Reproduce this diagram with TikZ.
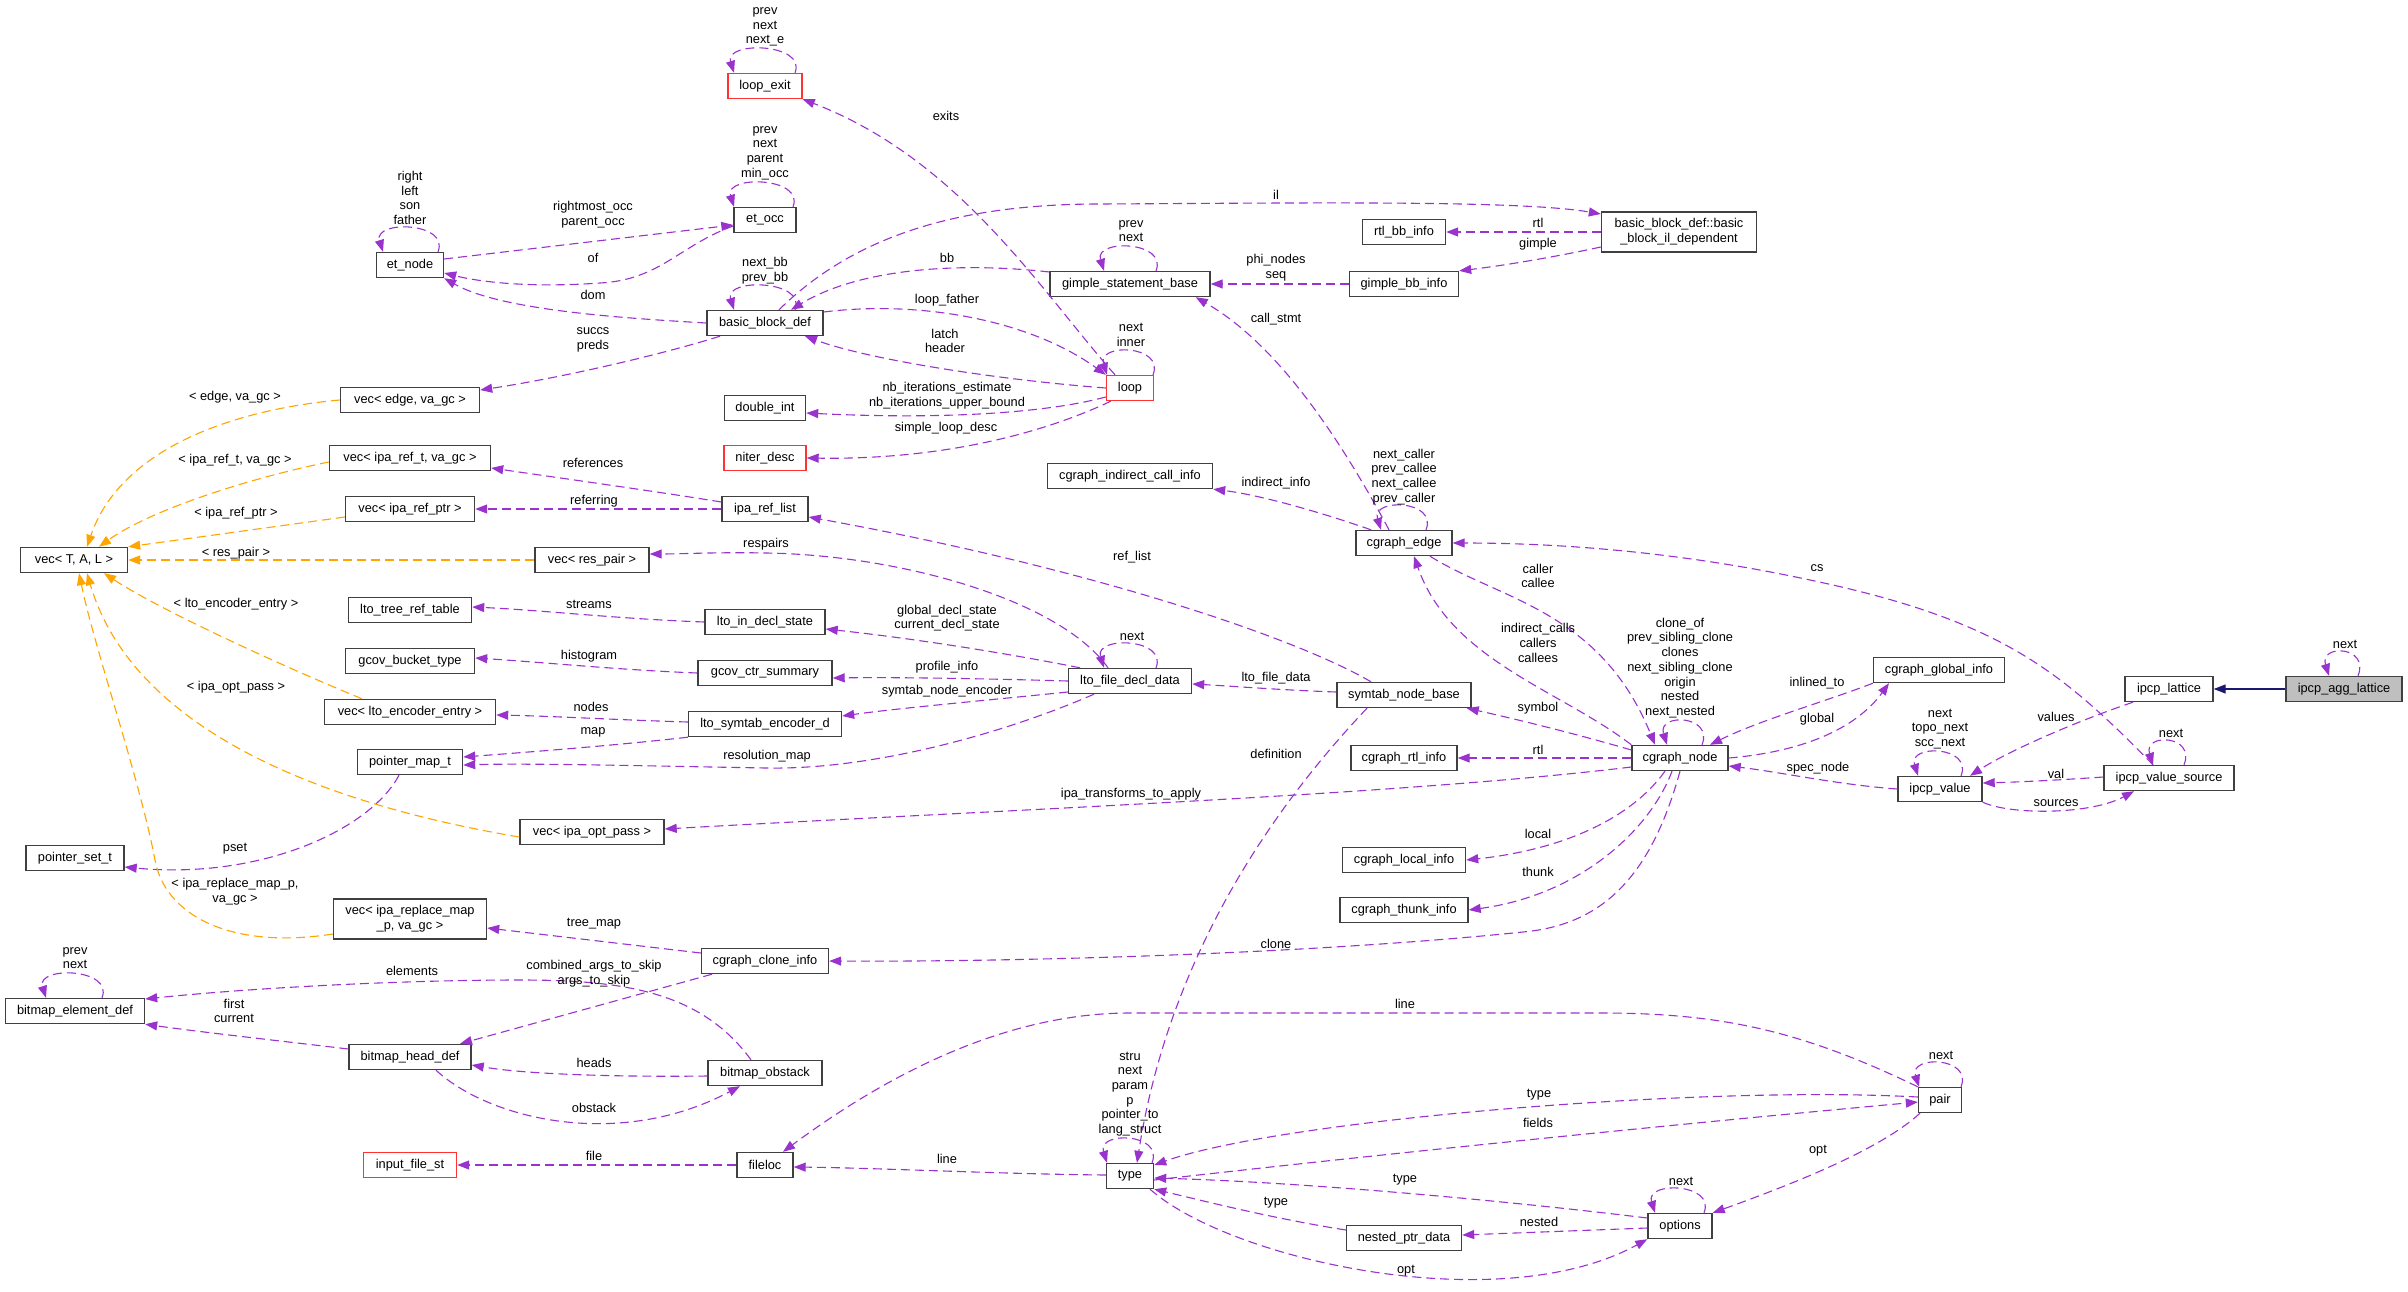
\documentclass[tikz,border=0pt]{standalone}
\usepackage{fontspec}
\setmainfont{Liberation Sans}
\usetikzlibrary{arrows.meta}
\definecolor{depcol}{HTML}{9A32CD}
\definecolor{tmplcol}{HTML}{FFA500}
\definecolor{inhcol}{HTML}{191970}
\definecolor{boxcol}{HTML}{404040}
\definecolor{redcol}{HTML}{FF3333}
\definecolor{graycol}{HTML}{BFBFBF}
\newcommand\dgfont{\fontsize{12.8}{14.7}\selectfont}
\newcommand\myloop[3]{\draw[dep] ([xshift=#2]#1.north) .. controls ([xshift={#2+12},yshift=30]#1.north) and ([xshift={-#3-10},yshift=32]#1.north) .. ([xshift=-#3]#1.north);}
\begin{document}
\begin{tikzpicture}[x=1pt,y=-1pt,
  box/.style={draw=boxcol,line width=1.4pt,fill=white,minimum height=25pt,inner sep=0pt,font=\dgfont,text=black},
  rbox/.style={box,draw=redcol},
  gbox/.style={box,fill=graycol},
  lab/.style={font=\dgfont,inner sep=0pt,align=center,text=black},
  dep/.style={draw=depcol,line width=1.1pt,dash pattern=on 9pt off 5pt,-{Triangle[length=12pt,width=9pt]}},
  tmpl/.style={draw=tmplcol,line width=1.1pt,dash pattern=on 9pt off 5pt,-{Triangle[length=12pt,width=9pt]}},
  inh/.style={draw=inhcol,line width=1.3pt,-{Triangle[length=12pt,width=9pt]}}]
\fill[white] (0,0) rectangle (2408,1292);
\useasboundingbox (0,0) rectangle (2408,1292);

% ---------- boxes ----------
\node[box,minimum width=67] (etnode) at (410,265) {et\_node};
\node[box,minimum width=62] (etocc) at (765,220) {et\_occ};
\node[rbox,minimum width=74] (loopexit) at (765,86) {loop\_exit};
\node[box,minimum width=116] (bbdef) at (765,323) {basic\_block\_def};
\node[box,minimum width=160] (gsb) at (1130,284) {gimple\_statement\_base};
\node[rbox,minimum width=47] (loop) at (1130,388) {loop};
\node[box,minimum width=81] (doubleint) at (765,408) {double\_int};
\node[box,minimum width=83] (rtlbb) at (1404,232) {rtl\_bb\_info};
\node[box,minimum width=155,minimum height=40,align=center] (bbil) at (1679,232) {basic\_block\_def::basic\\\_block\_il\_dependent};
\node[box,minimum width=109] (gimplebb) at (1404,284) {gimple\_bb\_info};
\node[box,minimum width=139] (vecedge) at (410,400) {vec< edge, va\_gc >};
\node[box,minimum width=107] (vectal) at (74,560) {vec< T, A, L >};
\node[box,minimum width=161] (vecreft) at (410,458) {vec< ipa\_ref\_t, va\_gc >};
\node[box,minimum width=129] (vecrefptr) at (410,509) {vec< ipa\_ref\_ptr >};
\node[box,minimum width=114] (vecrespair) at (592,560) {vec< res\_pair >};
\node[box,minimum width=123] (ltotree) at (410,610) {lto\_tree\_ref\_table};
\node[box,minimum width=129] (gcovbucket) at (410,661) {gcov\_bucket\_type};
\node[box,minimum width=171] (vecltoenc) at (410,712) {vec< lto\_encoder\_entry >};
\node[box,minimum width=105] (pointermap) at (410,762) {pointer\_map\_t};
\node[box,minimum width=144] (vecipaopt) at (592,832) {vec< ipa\_opt\_pass >};
\node[box,minimum width=98] (pointerset) at (75,858) {pointer\_set\_t};
\node[rbox,minimum width=82] (niterdesc) at (765,458) {niter\_desc};
\node[box,minimum width=165] (indirectcall) at (1130,476) {cgraph\_indirect\_call\_info};
\node[box,minimum width=86] (iparef) at (765,509) {ipa\_ref\_list};
\node[box,minimum width=120] (ltoindecl) at (765,622) {lto\_in\_decl\_state};
\node[box,minimum width=134] (gcovctr) at (765,673) {gcov\_ctr\_summary};
\node[box,minimum width=153] (ltosymtab) at (765,724) {lto\_symtab\_encoder\_d};
\node[box,minimum width=123] (ltofile) at (1130,681) {lto\_file\_decl\_data};
\node[box,minimum width=96] (cgedge) at (1404,543) {cgraph\_edge};
\node[box,minimum width=134] (symtab) at (1404,695) {symtab\_node\_base};
\node[box,minimum width=106] (cgrtl) at (1404,758) {cgraph\_rtl\_info};
\node[box,minimum width=96] (cgnode) at (1680,758) {cgraph\_node};
\node[box,minimum width=123] (cglocal) at (1404,860) {cgraph\_local\_info};
\node[box,minimum width=128] (cgthunk) at (1404,910) {cgraph\_thunk\_info};
\node[box,minimum width=131] (cgglobal) at (1939,670) {cgraph\_global\_info};
\node[box,minimum width=88] (ipcplattice) at (2169,689) {ipcp\_lattice};
\node[gbox,minimum width=116] (ipcpagg) at (2344,689) {ipcp\_agg\_lattice};
\node[box,minimum width=84] (ipcpvalue) at (1940,789) {ipcp\_value};
\node[box,minimum width=130] (ipcpvs) at (2169,778) {ipcp\_value\_source};
\node[box,minimum width=153,minimum height=40,align=center] (vecreplace) at (410,919) {vec< ipa\_replace\_map\\\_p, va\_gc >};
\node[box,minimum width=127] (cgclone) at (765,961) {cgraph\_clone\_info};
\node[box,minimum width=139] (bmelem) at (75,1011) {bitmap\_element\_def};
\node[box,minimum width=122] (bmhead) at (410,1057) {bitmap\_head\_def};
\node[box,minimum width=114] (bmobstack) at (765,1073) {bitmap\_obstack};
\node[rbox,minimum width=93] (inputfile) at (410,1165) {input\_file\_st};
\node[box,minimum width=56] (fileloc) at (765,1165) {fileloc};
\node[box,minimum width=47] (type) at (1130,1176) {type};
\node[box,minimum width=43] (pair) at (1940,1100) {pair};
\node[box,minimum width=64] (options) at (1680,1226) {options};
\node[box,minimum width=115] (nestedptr) at (1404,1238) {nested\_ptr\_data};

% ---------- self loops ----------
\myloop{etnode}{28}{27}
\myloop{etocc}{28}{31}
\myloop{loopexit}{30}{31}
\myloop{bbdef}{30}{31}
\myloop{gsb}{26}{26}
\myloop{loop}{23}{23}
\myloop{cgedge}{22}{23}
\myloop{cgnode}{22}{13}
\myloop{ltofile}{26}{26}
\myloop{ipcpagg}{14}{15}
\myloop{ipcpvalue}{21}{22}
\myloop{ipcpvs}{15}{16}
\myloop{bmelem}{27}{29}
\myloop{type}{22}{23}
\myloop{pair}{21}{21}
\myloop{options}{24}{25}

% ---------- connectors ----------
\draw[dep] ([yshift=6]etnode.east) -- ([yshift=-5]etocc.west);
\draw[dep] ([yshift=-6]etocc.west) .. controls (680,245) and (660,280) .. (600,283) .. controls (530,288) and (480,282) .. ([yshift=-8]etnode.east);
\draw[dep] (bbdef.west) .. controls (620,318) and (500,310) .. (etnode.south east);
\draw[dep] ([xshift=-45]bbdef.south) .. controls (660,355) and (560,378) .. ([yshift=10]vecedge.east);
\draw[dep] ([xshift=14]bbdef.north) .. controls (850,240) and (950,204) .. (1100,204) .. controls (1300,203) and (1520,200) .. ([yshift=18]bbil.west);
\draw[dep] ([yshift=12]gsb.west) .. controls (960,262) and (860,268) .. ([xshift=26]bbdef.north);
\draw[dep] (loop.west) .. controls (1000,380) and (870,360) .. ([xshift=40]bbdef.south);
\draw[dep] ([yshift=11]bbdef.east) .. controls (920,300) and (1030,320) .. (loop.north west);
\draw[dep] ([xshift=-15]loop.north) .. controls (1040,290) and (960,160) .. (loopexit.south east);
\draw[dep] ([yshift=-9]loop.west) .. controls (1050,412) and (950,420) .. ([yshift=-5]doubleint.east);
\draw[dep] ([xshift=5]loop.south west) .. controls (1050,430) and (950,460) .. (niterdesc.east);
\draw[dep] (bbil.west) -- (rtlbb.east);
\draw[dep] ([yshift=-15]bbil.west) .. controls (1550,258) and (1500,266) .. (gimplebb.north east);
\draw[dep] (gimplebb.west) -- (gsb.east);
\draw[dep] ([xshift=-15]cgedge.north) .. controls (1330,420) and (1270,340) .. ([xshift=-15]gsb.south east);
\draw[dep] ([xshift=-33]cgedge.north) .. controls (1320,512) and (1260,495) .. (indirectcall.south east);
\draw[dep] ([xshift=26]cgedge.south) .. controls (1500,600) and (1600,610) .. ([xshift=-25]cgnode.north);
\draw[dep] (cgnode.north west) .. controls (1560,690) and (1450,660) .. ([xshift=10]cgedge.south);
\draw[dep] ([xshift=-16]ipcpvs.north) .. controls (2060,670) and (2000,620) .. (1810,580) .. controls (1680,552) and (1560,543) .. (cgedge.east);
\draw[dep] (cgglobal.south west) .. controls (1830,700) and (1760,720) .. ([xshift=30]cgnode.north);
\draw[dep] (cgnode.east) .. controls (1800,752) and (1855,730) .. ([xshift=-50]cgglobal.south);
\draw[dep] (ipcpvalue.west) .. controls (1840,785) and (1780,772) .. ([yshift=-8]cgnode.east);
\draw[dep] ([yshift=8]cgnode.west) .. controls (1580,735) and (1520,720) .. ([xshift=-5]symtab.south east);
\draw[dep] (cgnode.west) -- (cgrtl.east);
\draw[dep] ([yshift=-9]cgnode.west) .. controls (1400,795) and (1000,810) .. ([yshift=3]vecipaopt.east);
\draw[dep] ([xshift=-15]cgnode.south) .. controls (1630,820) and (1560,850) .. (cglocal.east);
\draw[dep] ([xshift=-8]cgnode.south) .. controls (1650,830) and (1580,895) .. (cgthunk.east);
\draw[dep] (cgnode.south) .. controls (1650,880) and (1600,925) .. (1523,932) .. controls (1300,955) and (1000,962) .. (cgclone.east);
\draw[dep] ([xshift=-36]ipcplattice.south) .. controls (2080,720) and (2010,750) .. ([xshift=30]ipcpvalue.north);
\draw[dep] ([yshift=1]ipcpvs.west) .. controls (2060,780) and (2020,782) .. ([yshift=6]ipcpvalue.east);
\draw[dep] (ipcpvalue.south east) .. controls (2010,815) and (2090,815) .. ([xshift=-35]ipcpvs.south);
\draw[inh] (ipcpagg.west) -- (ipcplattice.east);
\draw[dep] ([yshift=3]symtab.west) .. controls (1280,690) and (1230,686) .. ([yshift=-3]ltofile.east);
\draw[dep] ([xshift=-33]symtab.north) .. controls (1300,640) and (1100,570) .. ([yshift=-8]iparef.east);
\draw[dep] ([xshift=-37]symtab.south) .. controls (1280,800) and (1170,950) .. ([xshift=7]type.north);
\draw[dep] ([xshift=-22]ltofile.north) .. controls (1060,600) and (900,555) .. (766,553) .. controls (720,552) and (680,554) .. ([yshift=6]vecrespair.east);
\draw[dep] ([xshift=-50]ltofile.north) .. controls (990,650) and (900,637) .. ([yshift=-7]ltoindecl.east);
\draw[dep] (ltofile.west) .. controls (1000,679) and (900,677) .. ([yshift=-5]gcovctr.east);
\draw[dep] ([yshift=-11]ltofile.west) .. controls (990,700) and (900,708) .. ([yshift=8]ltosymtab.east);
\draw[dep] ([xshift=-36]ltofile.south) .. controls (1000,735) and (870,770) .. (766,768) .. controls (650,766) and (530,763) .. ([yshift=-3]pointermap.east);
\draw[dep] (ltoindecl.west) .. controls (620,619) and (540,610) .. ([yshift=3]ltotree.east);
\draw[dep] (gcovctr.west) .. controls (620,670) and (540,662) .. ([yshift=3]gcovbucket.east);
\draw[dep] ([yshift=2]ltosymtab.west) .. controls (620,720) and (550,716) .. ([yshift=-3]vecltoenc.east);
\draw[dep] (ltosymtab.south west) .. controls (620,745) and (530,752) .. ([yshift=5]pointermap.east);
\draw[dep] ([xshift=-11]pointermap.south) .. controls (370,830) and (260,880) .. ([yshift=-9]pointerset.east);
\draw[dep] ([yshift=7]iparef.west) .. controls (660,492) and (560,478) .. ([yshift=-10]vecreft.east);
\draw[dep] (iparef.west) -- (vecrefptr.east);
\draw[tmpl] (vecedge.west) .. controls (230,410) and (120,450) .. ([xshift=13]vectal.north);
\draw[tmpl] ([yshift=-4]vecreft.west) .. controls (250,478) and (150,510) .. ([xshift=25]vectal.north);
\draw[tmpl] ([yshift=-8]vecrefptr.west) -- (vectal.north east);
\draw[tmpl] (vecrespair.west) -- (vectal.east);
\draw[tmpl] ([xshift=-48]vecltoenc.north) .. controls (280,665) and (160,610) .. ([xshift=30]vectal.south);
\draw[tmpl] ([yshift=-5]vecipaopt.west) .. controls (300,800) and (130,720) .. ([xshift=13]vectal.south);
\draw[tmpl] ([yshift=-15]vecreplace.west) .. controls (230,950) and (165,915) .. (155,860) .. controls (140,780) and (95,650) .. ([xshift=5]vectal.south);
\draw[dep] ([yshift=8]cgclone.west) -- ([yshift=-9]vecreplace.east);
\draw[dep] ([xshift=-53]cgclone.south) -- ([xshift=50]bmhead.north);
\draw[dep] ([xshift=-14]bmobstack.north) .. controls (700,990) and (620,980) .. (520,980) .. controls (400,980) and (250,988) .. ([yshift=12]bmelem.east);
\draw[dep] ([yshift=8]bmhead.west) .. controls (290,1042) and (200,1032) .. (bmelem.south east);
\draw[dep] ([yshift=-3]bmobstack.west) .. controls (630,1077) and (530,1075) .. ([yshift=-8]bmhead.east);
\draw[dep] ([xshift=26]bmhead.south) .. controls (490,1120) and (620,1150) .. ([xshift=-25]bmobstack.south);
\draw[dep] (fileloc.west) -- (inputfile.east);
\draw[dep] ([yshift=1]type.west) .. controls (1000,1174) and (880,1168) .. ([yshift=-2]fileloc.east);
\draw[dep] (pair.north west) .. controls (1800,1030) and (1720,1013) .. (1600,1013) -- (1130,1013) .. controls (1000,1013) and (880,1080) .. ([xshift=18]fileloc.north);
\draw[dep] ([yshift=3]pair.west) .. controls (1700,1085) and (1280,1120) .. ([yshift=11]type.east);
\draw[dep] ([yshift=-4]type.east) .. controls (1400,1152) and (1700,1122) .. ([yshift=-2]pair.west);
\draw[dep] ([xshift=-20]pair.south) .. controls (1880,1150) and (1790,1185) .. (options.north east);
\draw[dep] ([yshift=8]options.west) .. controls (1500,1200) and (1300,1182) .. ([yshift=-2]type.east);
\draw[dep] ([yshift=-2]options.west) -- ([yshift=3]nestedptr.east);
\draw[dep] ([yshift=8]nestedptr.west) .. controls (1270,1218) and (1200,1200) .. (type.south east);
\draw[dep] ([xshift=20]type.south) .. controls (1230,1260) and (1500,1320) .. (options.south west);

% ---------- labels ----------
\node[lab] (l1) at (410,198) {right\\left\\son\\father};
\node[lab] (l2) at (765,153) {prev\\next\\parent\\min\_occ};
\node[lab] (l3) at (765,27) {prev\\next\\next\_e};
\node[lab] (l4) at (765,271) {next\_bb\\prev\_bb};
\node[lab] (l5) at (1131,231) {prev\\next};
\node[lab] (l6) at (1131,335) {next\\inner};
\node[lab] (l7) at (1404,477) {next\_caller\\prev\_callee\\next\_callee\\prev\_caller};
\node[lab] (l8) at (1680,668) {clone\_of\\prev\_sibling\_clone\\clones\\next\_sibling\_clone\\origin\\nested\\next\_nested};
\node[lab] (l9) at (1132,636) {next};
\node[lab] (l10) at (2345,644) {next};
\node[lab] (l11) at (1940,729) {next\\topo\_next\\scc\_next};
\node[lab] (l12) at (2171,733) {next};
\node[lab] (l13) at (75,958) {prev\\next};
\node[lab] (l14) at (1130,1094) {stru\\next\\param\\p\\pointer\_to\\lang\_struct};
\node[lab] (l15) at (1941,1055) {next};
\node[lab] (l16) at (1681,1181) {next};
\node[lab] (l17) at (593,215) {rightmost\_occ\\parent\_occ};
\node[lab] (l18) at (593,258) {of};
\node[lab] (l19) at (593,295) {dom};
\node[lab] (l20) at (593,340) {succs\\preds};
\node[lab] (l21) at (235,397) {< edge, va\_gc >};
\node[lab] (l22) at (946,116) {exits};
\node[lab] (l23) at (1276,195) {il};
\node[lab] (l24) at (947,258) {bb};
\node[lab] (l25) at (947,300) {loop\_father};
\node[lab] (l26) at (945,341) {latch\\header};
\node[lab] (l27) at (947,396) {nb\_iterations\_estimate\\nb\_iterations\_upper\_bound};
\node[lab] (l28) at (946,428) {simple\_loop\_desc};
\node[lab] (l29) at (1538,223) {rtl};
\node[lab] (l30) at (1538,244) {gimple};
\node[lab] (l31) at (1276,268) {phi\_nodes\\seq};
\node[lab] (l32) at (1276,319) {call\_stmt};
\node[lab] (l33) at (1276,483) {indirect\_info};
\node[lab] (l34) at (1538,576) {caller\\callee};
\node[lab] (l35) at (1538,643) {indirect\_calls\\callers\\callees};
\node[lab] (l36) at (1817,568) {cs};
\node[lab] (l37) at (1817,683) {inlined\_to};
\node[lab] (l38) at (1817,719) {global};
\node[lab] (l39) at (1818,768) {spec\_node};
\node[lab] (l40) at (1538,708) {symbol};
\node[lab] (l41) at (1538,750) {rtl};
\node[lab] (l42) at (1131,794) {ipa\_transforms\_to\_apply};
\node[lab] (l43) at (1538,834) {local};
\node[lab] (l44) at (1538,872) {thunk};
\node[lab] (l45) at (1276,944) {clone};
\node[lab] (l46) at (2056,717) {values};
\node[lab] (l47) at (2056,774) {val};
\node[lab] (l48) at (2056,803) {sources};
\node[lab] (l49) at (1276,678) {lto\_file\_data};
\node[lab] (l50) at (1132,557) {ref\_list};
\node[lab] (l51) at (1276,754) {definition};
\node[lab] (l52) at (766,544) {respairs};
\node[lab] (l53) at (947,618) {global\_decl\_state\\current\_decl\_state};
\node[lab] (l54) at (947,667) {profile\_info};
\node[lab] (l55) at (947,691) {symtab\_node\_encoder};
\node[lab] (l56) at (767,756) {resolution\_map};
\node[lab] (l57) at (589,604) {streams};
\node[lab] (l58) at (589,656) {histogram};
\node[lab] (l59) at (591,707) {nodes};
\node[lab] (l60) at (593,732) {map};
\node[lab] (l61) at (235,849) {pset};
\node[lab] (l62) at (593,463) {references};
\node[lab] (l63) at (594,501) {referring};
\node[lab] (l64) at (235,460) {< ipa\_ref\_t, va\_gc >};
\node[lab] (l65) at (236,513) {< ipa\_ref\_ptr >};
\node[lab] (l66) at (236,553) {< res\_pair >};
\node[lab] (l67) at (236,604) {< lto\_encoder\_entry >};
\node[lab] (l68) at (236,687) {< ipa\_opt\_pass >};
\node[lab] (l69) at (235,892) {< ipa\_replace\_map\_p,\\va\_gc >};
\node[lab] (l70) at (594,924) {tree\_map};
\node[lab] (l71) at (594,974) {combined\_args\_to\_skip\\args\_to\_skip};
\node[lab] (l72) at (412,971) {elements};
\node[lab] (l73) at (234,1011) {first\\current};
\node[lab] (l74) at (594,1063) {heads};
\node[lab] (l75) at (594,1108) {obstack};
\node[lab] (l76) at (594,1156) {file};
\node[lab] (l77) at (947,1159) {line};
\node[lab] (l78) at (1405,1004) {line};
\node[lab] (l79) at (1539,1095) {type};
\node[lab] (l80) at (1538,1123) {fields};
\node[lab] (l81) at (1818,1151) {opt};
\node[lab] (l82) at (1405,1180) {type};
\node[lab] (l83) at (1539,1222) {nested};
\node[lab] (l84) at (1276,1203) {type};
\node[lab] (l85) at (1406,1271) {opt};
\end{tikzpicture}
\end{document}
